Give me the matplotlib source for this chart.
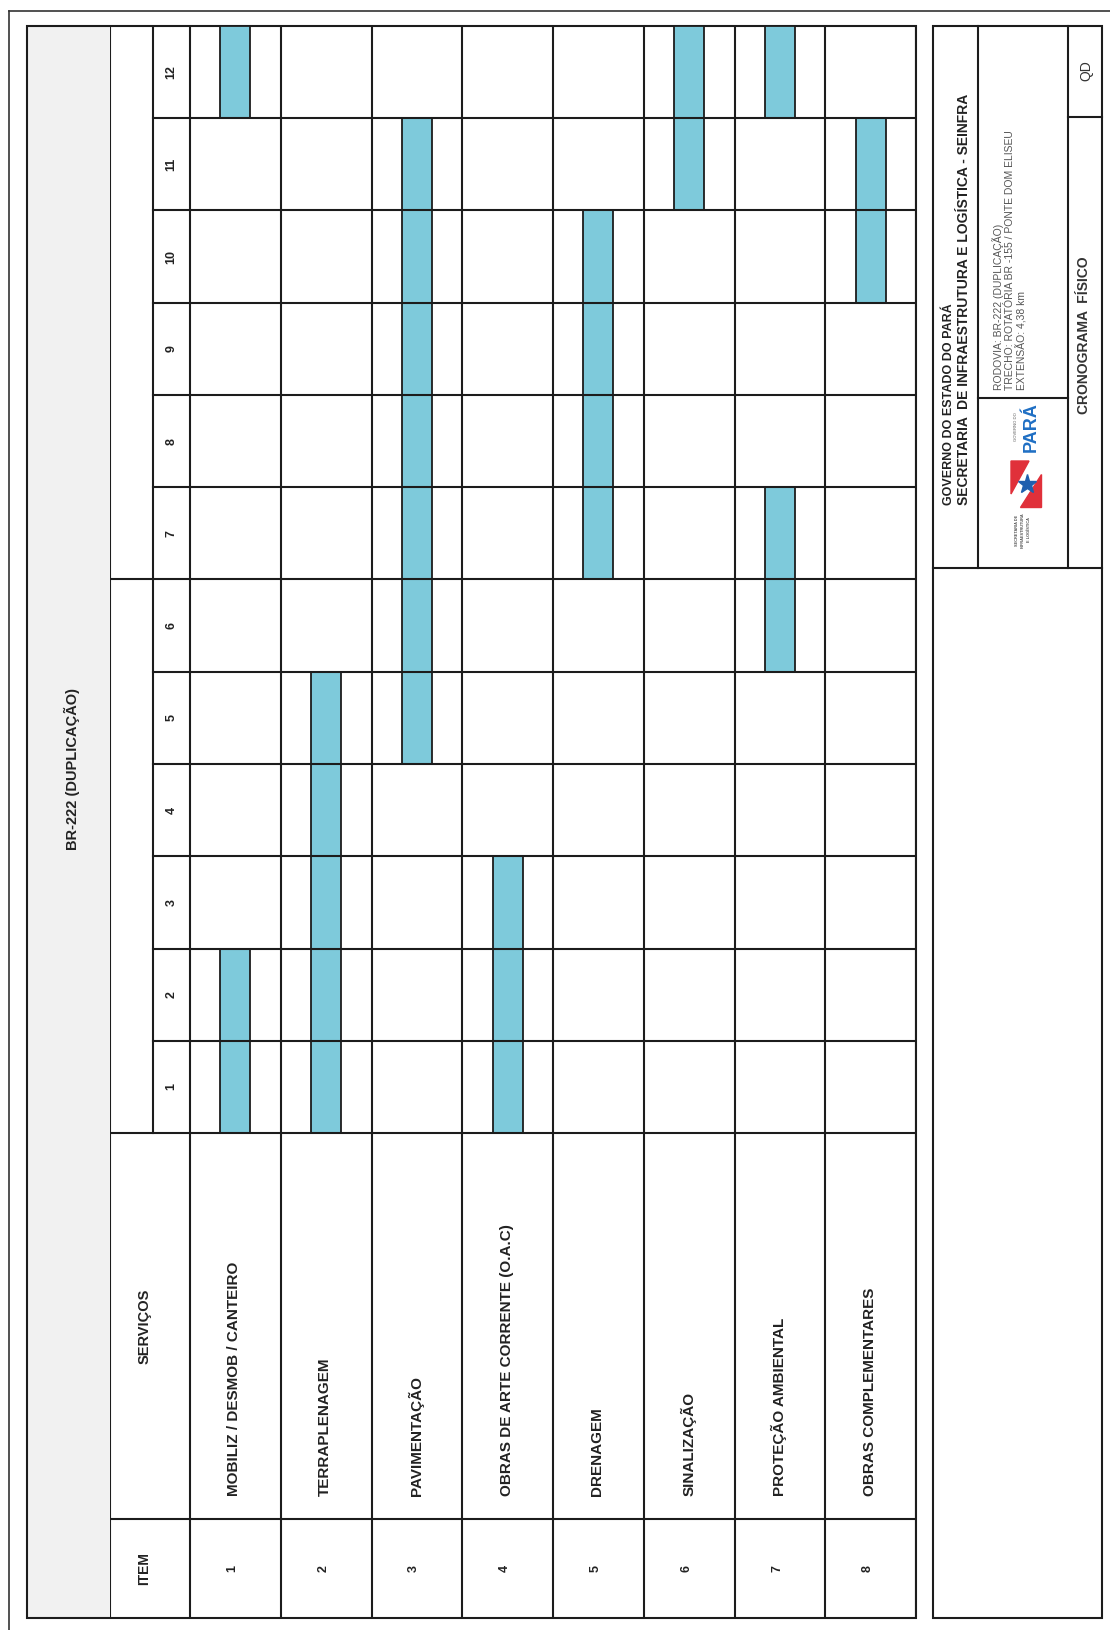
import matplotlib.pyplot as plt
from matplotlib.patches import Rectangle, Polygon

plt.rcParams['font.family'] = ['Liberation Sans', 'DejaVu Sans']

# --- data -------------------------------------------------------------
title = 'BR-222 (DUPLICAÇÃO)'
services = ['MOBILIZ / DESMOB / CANTEIRO', 'TERRAPLENAGEM', 'PAVIMENTAÇÃO',
            'OBRAS DE ARTE CORRENTE (O.A.C)', 'DRENAGEM', 'SINALIZAÇÃO',
            'PROTEÇÃO AMBIENTAL', 'OBRAS COMPLEMENTARES']
items = [1, 2, 3, 4, 5, 6, 7, 8]
months = [1, 2, 3, 4, 5, 6, 7, 8, 9, 10, 11, 12]

# one entry per blue bar: service index, first month, last month
bar_service = [0, 0, 1, 2, 3, 4, 5, 6, 6, 7]
bar_start = [1, 12, 1, 5, 1, 7, 11, 6, 12, 10]
bar_end = [2, 12, 5, 11, 3, 10, 12, 7, 12, 11]

block_head = ['GOVERNO DO ESTADO DO PARÁ',
              'SECRETARIA  DE INFRAESTRUTURA E LOGÍSTICA - SEINFRA']
block_info = ['RODOVIA: BR-222 (DUPLICAÇÃO)',
              'TRECHO: ROTATÓRIA BR -155 / PONTE DOM ELISEU',
              'EXTENSÃO: 4,38 km']
block_name = 'CRONOGRAMA  FÍSICO'
block_code = 'QD'

# --- layout (pixels of the page) --------------------------------------
W, H = 1110, 1630
GRID_L, GRID_R = 190, 916      # first / last service row edge
HEAD_L = 110                   # left edge of header column
NUM_L = 153                    # left edge of month number column
TOP, MONTH0 = 26, 1133         # top of month 12, bottom of month 1
ITEM_Y, BOTTOM = 1519, 1618

LINE = '#1c1c1c'
BAR = '#7ecadb'
LW = 1.5

row_w = (GRID_R - GRID_L) / len(services)
mon_h = (MONTH0 - TOP) / len(months)

fig = plt.figure(figsize=(W / 100, H / 100), dpi=100)

# page axes in pixel coordinates: frames, grey title column, title block
page = fig.add_axes([0, 0, 1, 1])
page.set_xlim(0, W)
page.set_ylim(H, 0)
page.axis('off')

page.plot([9, 9], [11, H], color='#333333', lw=1.2)
page.plot([9, W], [11, 11], color='#333333', lw=1.2)
page.add_patch(Rectangle((27, TOP), HEAD_L - 27, BOTTOM - TOP,
                         facecolor='#f1f1f1', edgecolor='none'))
page.add_patch(Rectangle((27, TOP), GRID_R - 27, BOTTOM - TOP,
                         facecolor='none', edgecolor=LINE, lw=LW))
page.text(72, 769, title, rotation=90, ha='center',
          va='center', fontsize=10.5, fontweight='bold', color='#222222')

# title block
page.add_patch(Rectangle((933, TOP), 1102 - 933, BOTTOM - TOP,
                         facecolor='none', edgecolor=LINE, lw=LW))
page.plot([978, 978], [TOP, 568], color=LINE, lw=LW)
page.plot([1068, 1068], [TOP, 568], color=LINE, lw=LW)
page.plot([933, 1102], [568, 568], color=LINE, lw=LW)
page.plot([978, 1068], [398, 398], color=LINE, lw=LW)
page.plot([1068, 1102], [117, 117], color=LINE, lw=LW)

for x, txt, fs in zip([949, 964], block_head, [9, 10]):
    page.text(x, 505, txt, rotation=90, rotation_mode='anchor', ha='left',
              va='center', fontsize=fs, fontweight='bold', color='#222222')
for x, txt in zip([998, 1010, 1022], block_info):
    page.text(x, 390, txt, rotation=90, rotation_mode='anchor', ha='left',
              va='center', fontsize=7.5, color='#555555')
page.text(1084, 414, block_name, rotation=90, rotation_mode='anchor',
          ha='left', va='center', fontsize=10, fontweight='bold',
          color='#333333')
page.text(1086, 71, block_code, rotation=90, ha='center', va='center',
          fontsize=10, color='#333333')

# logo (simplified flag + name)
page.add_patch(Polygon([(1011, 461), (1029, 461), (1011, 494)],
                       closed=True, color='#e0303a'))
page.add_patch(Polygon([(1041, 474), (1041, 507), (1020, 507)],
                       closed=True, color='#e0303a'))
page.plot([1027], [484], marker='*', markersize=14, color='#1f5fae')
page.text(1031, 427, 'PARÁ', rotation=90, ha='center', va='center',
          fontsize=13, fontweight='bold', color='#1f6fc4')
page.text(1016, 427, 'GOVERNO DO', rotation=90, ha='center', va='center',
          fontsize=3, color='#555555')
for x, txt in zip([1017, 1023, 1029],
                  ['SECRETARIA DE', 'INFRAESTRUTURA', 'E LOGÍSTICA']):
    page.text(x, 530, txt, rotation=90, ha='center', va='center',
              fontsize=2.8, fontweight='bold', color='#555555')

# --- schedule axes: x = service index, y = month ------------------------
x_head = (GRID_L - HEAD_L) / row_w
x_num = (GRID_L - NUM_L) / row_w
y_item = (ITEM_Y - MONTH0) / mon_h
y_bot = (BOTTOM - MONTH0) / mon_h

ax = fig.add_axes([HEAD_L / W, (H - BOTTOM) / H,
                   (GRID_R - HEAD_L) / W, (BOTTOM - TOP) / H])
ax.set_xlim(-x_head, len(services))
ax.set_ylim(-y_bot, len(months))
ax.axis('off')
ax.patch.set_alpha(0)

heights = [e - s + 1 for s, e in zip(bar_start, bar_end)]
ax.bar([i + 0.5 for i in bar_service], heights,
       bottom=[s - 1 for s in bar_start], width=0.33, color=BAR,
       edgecolor=LINE, lw=1.3, zorder=1)

# grid
for m in months[:-1]:
    x0 = -x_head if m == 6 else -x_num
    ax.plot([x0, len(services)], [m, m], color=LINE, lw=LW, zorder=2)
for y in [0, -y_item]:
    ax.plot([-x_head, len(services)], [y, y], color=LINE, lw=LW, zorder=2)
ax.plot([-x_num, -x_num], [0, len(months)], color=LINE, lw=LW, zorder=2)
ax.plot([-x_head, -x_head], [-y_bot, len(months)], color=LINE, lw=LW,
        zorder=2)
for i in range(len(services) + 1):
    ax.plot([i, i], [-y_bot, len(months)], color=LINE, lw=LW, zorder=2)

# labels
for m in months:
    ax.text(-x_num / 2, m - 0.5, str(m), rotation=90, ha='center',
            va='center', fontsize=9, fontweight='bold', color='#222222')
ax.text(-x_head / 2 - 0.06, -y_item / 2, 'SERVIÇOS', rotation=90,
        ha='center', va='center', fontsize=10.5, fontweight='bold',
        color='#222222')
ax.text(-x_head / 2 - 0.06, -(y_item + y_bot) / 2, 'ITEM', rotation=90,
        ha='center', va='center', fontsize=10, fontweight='bold',
        color='#222222')
label_y = -(1496 - MONTH0) / mon_h
for i, (name, it) in enumerate(zip(services, items)):
    ax.text(i + 0.49, label_y, name, rotation=90, rotation_mode='anchor',
            ha='left', va='center', fontsize=11, fontweight='bold',
            color='#222222')
    ax.text(i + 0.47, -(y_item + y_bot) / 2, str(it), rotation=90,
            ha='center', va='center', fontsize=9, fontweight='bold',
            color='#222222')

fig.savefig('out.png', dpi=100, facecolor='white')
